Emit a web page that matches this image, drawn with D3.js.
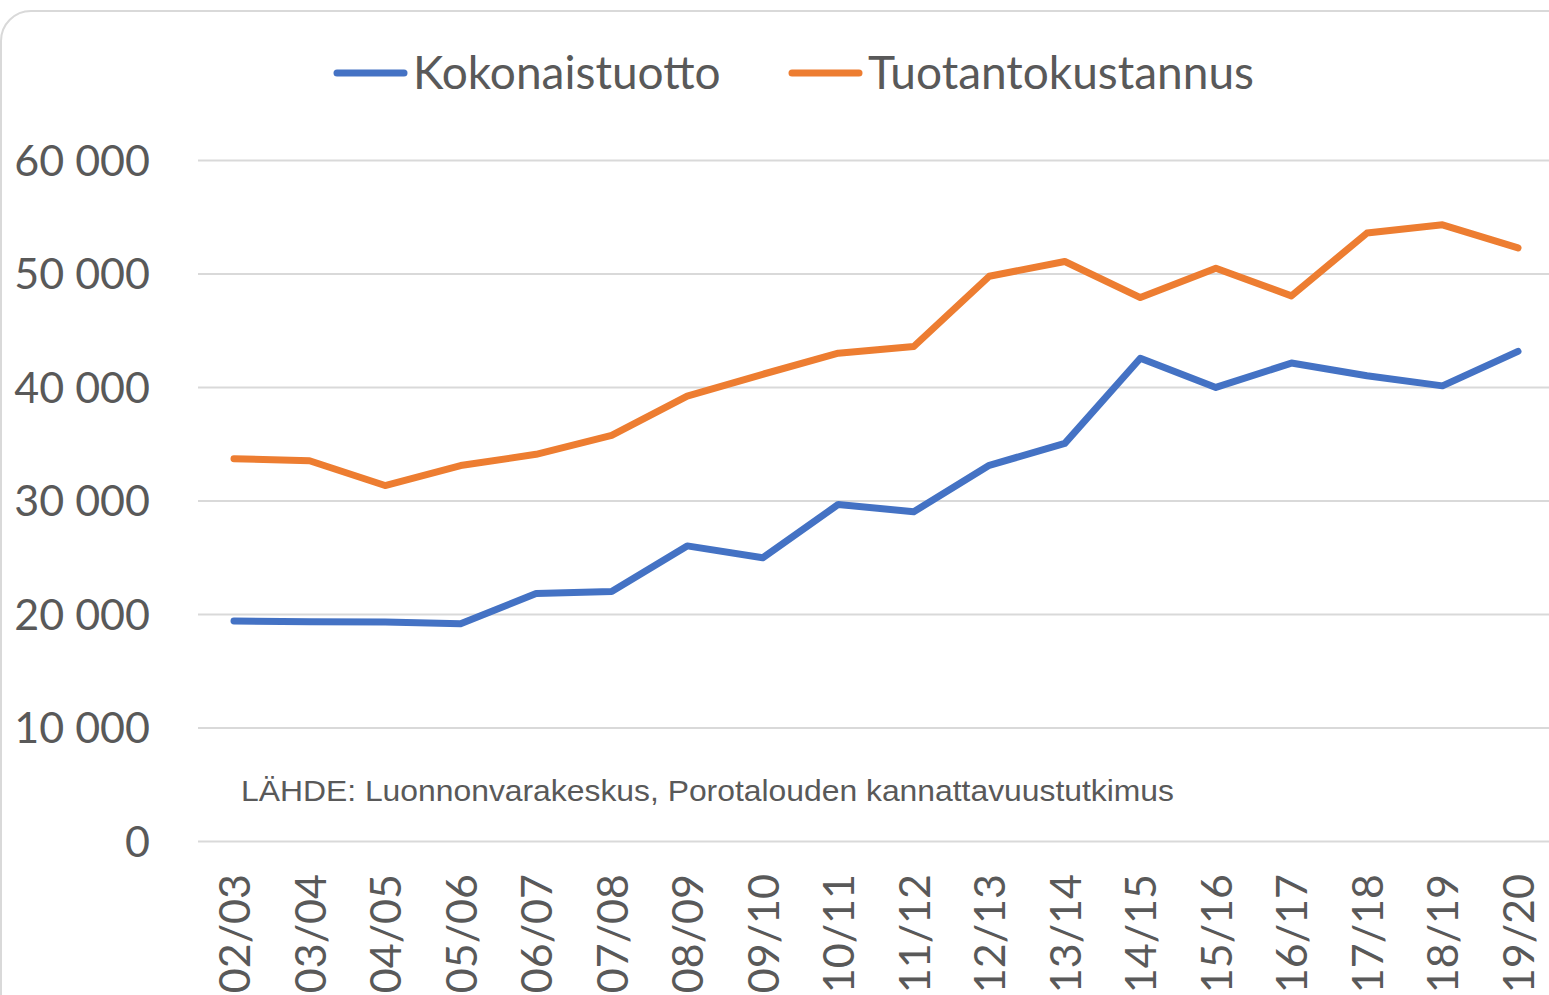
<!DOCTYPE html>
<html>
<head>
<meta charset="utf-8">
<script src="https://cdn.jsdelivr.net/npm/d3@7"></script>
<style>
  body { margin: 0; background: #fff; }
  svg { display: block; }
</style>
</head>
<body>
<svg id="chart" width="1549" height="995"></svg>
<script>
  // season labels
  var seasons = ["02/03", "03/04", "04/05", "05/06", "06/07", "07/08", "08/09", "09/10", "10/11",
                 "11/12", "12/13", "13/14", "14/15", "15/16", "16/17", "17/18", "18/19", "19/20"];

  // Kokonaistuotto (blue)
  var kokonaistuotto = [19390, 19320, 19300, 19150, 21800, 21980, 26000, 24950, 29650,
                        29010, 33100, 35030, 42530, 39960, 42110, 40990, 40100, 43140];

  // Tuotantokustannus (orange)
  var tuotantokustannus = [33680, 33500, 31320, 33080, 34070, 35730, 39200, 41120, 42980,
                           43570, 49760, 51060, 47880, 50470, 48030, 53560, 54290, 52250];

  var yTicks = [0, 10000, 20000, 30000, 40000, 50000, 60000];
  var yTickLabels = ["0", "10 000", "20 000", "30 000", "40 000", "50 000", "60 000"];

  var seriesNames = ["Kokonaistuotto", "Tuotantokustannus"];
  var seriesColors = ["#4472c4", "#ed7d31"];

  var svg = d3.select("#chart");
  var font = "Lato, 'Open Sans', sans-serif";

  var plotLeft = 198, plotRight = 1549, plotTop = 160, plotBottom = 841;

  // chart frame (rounded, cropped at right/bottom)
  svg.append("rect")
     .attr("x", 1)
     .attr("y", 11)
     .attr("width", 1600)
     .attr("height", 1100)
     .attr("rx", 30)
     .attr("fill", "none")
     .attr("stroke", "#d9d9d9")
     .attr("stroke-width", 2);

  var x = d3.scalePoint().domain(seasons).range([234, 1518]);
  var y = d3.scaleLinear().domain([0, 60000]).range([plotBottom, plotTop]);

  // y axis + gridlines
  var yAxis = d3.axisLeft(y)
                .tickValues(yTicks)
                .tickSize(-(plotRight - plotLeft))
                .tickPadding(48)
                .tickFormat(function(d, i) { return yTickLabels[i]; });

  var gy = svg.append("g")
              .attr("transform", `translate(${plotLeft},0)`)
              .call(yAxis)
              .attr("font-family", font)
              .attr("font-size", 43);
  gy.select(".domain").remove();
  gy.selectAll("line").attr("stroke", "#d9d9d9").attr("stroke-width", 2);
  gy.selectAll("text")
    .attr("fill", "#595959")
    .attr("dy", "0.36em");

  // x axis
  var xAxis = d3.axisBottom(x).tickSize(0);
  var gx = svg.append("g")
              .attr("transform", `translate(0,${plotBottom})`)
              .call(xAxis)
              .attr("font-family", font)
              .attr("font-size", 43);
  gx.select(".domain").remove();
  gx.selectAll("text")
    .attr("fill", "#595959")
    .attr("text-anchor", "end")
    .attr("transform", "rotate(-90)")
    .attr("x", -33)
    .attr("y", 0)
    .attr("dy", "0.36em");

  // lines
  var line = d3.line()
               .x(function(d, i) { return x(seasons[i]); })
               .y(function(d) { return y(d); });

  [kokonaistuotto, tuotantokustannus].forEach(function(vals, i) {
    svg.append("path")
       .datum(vals)
       .attr("d", line)
       .attr("fill", "none")
       .attr("stroke", seriesColors[i])
       .attr("stroke-width", 7)
       .attr("stroke-linejoin", "round")
       .attr("stroke-linecap", "round");
  });

  // legend
  var legendX = [337, 792];
  seriesNames.forEach(function(name, i) {
    var g = svg.append("g").attr("transform", `translate(${legendX[i]},73)`);
    g.append("line")
     .attr("x1", 0).attr("x2", 67)
     .attr("stroke", seriesColors[i])
     .attr("stroke-width", 7)
     .attr("stroke-linecap", "round");
    g.append("text")
     .attr("x", 76)
     .attr("dy", "0.35em")
     .attr("font-family", font)
     .attr("font-size", 46)
     .attr("fill", "#595959")
     .text(name);
  });

  // source note
  svg.append("text")
     .attr("x", 241)
     .attr("y", 801)
     .attr("font-family", "'Liberation Sans', Arial, sans-serif")
     .attr("font-size", 29)
     .attr("fill", "#595959")
     .attr("textLength", 933)
     .attr("lengthAdjust", "spacingAndGlyphs")
     .text("LÄHDE: Luonnonvarakeskus, Porotalouden kannattavuustutkimus");
</script>
</body>
</html>
